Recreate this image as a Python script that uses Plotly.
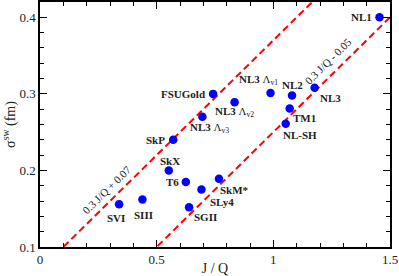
import plotly.graph_objects as go

names = ["NL1", "NL3", "NL2", "NL3 Λ<sub>v1</sub>", "TM1", "NL-SH", "NL3 Λ<sub>v2</sub>",
         "FSUGold", "NL3 Λ<sub>v3</sub>", "SkP", "SkX", "T6", "SVI", "SIII", "SGII", "SLy4", "SkM*"]
jq = [1.455, 1.177, 1.08, 0.988, 1.07, 1.053, 0.834, 0.742, 0.696, 0.571, 0.552, 0.625,
      0.339, 0.439, 0.639, 0.692, 0.767]
sigma = [0.400, 0.308, 0.298, 0.301, 0.281, 0.261, 0.289, 0.300, 0.270, 0.240, 0.200, 0.185,
         0.156, 0.162, 0.152, 0.175, 0.189]

line1_x = [0.0, 1.5]
line1_y = [0.3 * x + 0.07 for x in line1_x]
line2_x = [0.0, 1.5]
line2_y = [0.3 * x - 0.05 for x in line2_x]

# label placement: (xanchor, xshift, yshift)
label_pos = {
    "NL1": ("right", -6, 0),
    "NL3": ("center", 16, -10),
    "NL2": ("center", 0, 10),
    "NL3 Λ<sub>v1</sub>": ("center", -12, 13),
    "TM1": ("center", 15, -10),
    "NL-SH": ("center", 14, -11),
    "NL3 Λ<sub>v2</sub>": ("center", 0, -10),
    "FSUGold": ("right", -6, 0),
    "NL3 Λ<sub>v3</sub>": ("center", 7, -11),
    "SkP": ("right", -6, 0),
    "SkX": ("center", 1, 9),
    "T6": ("right", -5, 0),
    "SVI": ("center", -3, -14),
    "SIII": ("center", 1, -15),
    "SGII": ("center", 16, -10),
    "SLy4": ("center", 21, -12),
    "SkM*": ("center", 16, -11),
}

fig = go.Figure()
fig.add_trace(go.Scatter(x=line1_x, y=line1_y, mode="lines",
                         line=dict(color="#ff0000", width=2, dash="7px,4px"), hoverinfo="skip"))
fig.add_trace(go.Scatter(x=line2_x, y=line2_y, mode="lines",
                         line=dict(color="#ff0000", width=2, dash="7px,4px"), hoverinfo="skip"))
fig.add_trace(go.Scatter(x=jq, y=sigma, mode="markers",
                         marker=dict(color="#0000ff", size=8.5)))

serif = "Liberation Serif"
for n, xv, yv in zip(names, jq, sigma):
    xa, xs, ys = label_pos[n]
    if "Λ" in n:
        base, rest = n.split(" ", 1)
        txt = f"<b>{base}</b> {rest}"
    else:
        txt = f"<b>{n}</b>"
    fig.add_annotation(x=xv, y=yv, text=txt, showarrow=False, xanchor=xa, yanchor="middle",
                       xshift=xs, yshift=ys, font=dict(family=serif, size=11, color="#222"))

fig.add_annotation(x=0.31, y=0.163, text="0.3 J/Q + 0.07", showarrow=False, textangle=-44.7,
                   font=dict(family=serif, size=11, color="#222"), xshift=-6, yshift=9)
fig.add_annotation(x=1.27, y=0.331, text="0.3 J/Q - 0.05", showarrow=False, textangle=-44.7,
                   font=dict(family=serif, size=11, color="#222"), xshift=-8, yshift=9)

axis_common = dict(showline=True, linecolor="black", linewidth=1.5, mirror="allticks",
                   ticks="inside", ticklen=7, tickwidth=1, tickcolor="black",
                   showgrid=False, zeroline=False, automargin=False,
                   tickfont=dict(family=serif, size=13, color="#222"))
fig.update_xaxes(range=[0, 1.5], tickvals=[0, 0.5, 1, 1.5], ticktext=["0", "0.5", "1", "1.5"],
                 minor=dict(dtick=0.1, ticks="inside", ticklen=4, tickcolor="black", showgrid=False),
                 title=dict(text="J / Q", font=dict(family=serif, size=14, color="#222"), standoff=0),
                 **axis_common)
fig.update_yaxes(range=[0.1, 0.42], tickvals=[0.1, 0.2, 0.3, 0.4], ticktext=["0.1", "0.2", "0.3", "0.4"],
                 minor=dict(dtick=0.02, tick0=0.1, ticks="inside", ticklen=4, tickcolor="black", showgrid=False),
                 title=dict(text="σ<sup>sw</sup> (fm)", font=dict(family=serif, size=14, color="#222"), standoff=2),
                 **axis_common)
fig.update_layout(width=399, height=276, margin=dict(l=40, r=9, t=2, b=29),
                  plot_bgcolor="white", paper_bgcolor="white", showlegend=False)
fig.write_html("out.html", config={"displayModeBar": False},
               post_script="document.body.style.margin='0px';document.body.style.overflow='hidden';")
